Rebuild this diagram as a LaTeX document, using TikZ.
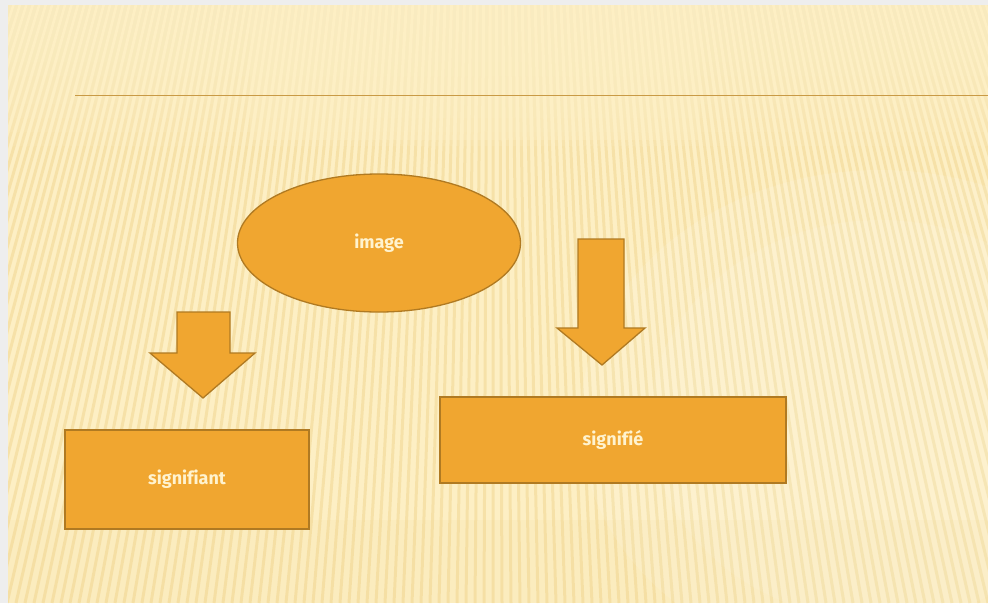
\documentclass[tikz,border=0pt]{standalone}
\usepackage{fontspec}
\usetikzlibrary{shapes.geometric,calc}
\newfontfamily\handfont[Ligatures=NoCommon]{Fira Sans}
\definecolor{pagegray}{HTML}{EEEEEE}
\definecolor{slidebg}{HTML}{FDEFC4}
\definecolor{stripe}{HTML}{E9C46E}
\definecolor{boxfill}{HTML}{F0A630}
\definecolor{boxline}{HTML}{B07A22}
\definecolor{boxtext}{HTML}{FFF3CF}
\definecolor{rulecol}{HTML}{C99A45}
\tikzset{
  shapebase/.style={fill=boxfill, draw=boxline, line width=1.3pt},
  labelfont/.style={font=\handfont\bfseries\fontsize{18}{20}\selectfont},
  boxnode/.style={shapebase, rectangle, inner sep=0pt, text=boxtext, labelfont},
  ovalnode/.style={shapebase, ellipse, inner sep=0pt, text=boxtext, labelfont},
  blockarrow/.style={shapebase, line join=miter}
}
\begin{document}
\begin{tikzpicture}[x=1pt,y=-1pt]
\useasboundingbox (0,0) rectangle (988,603);
% page and slide background
\fill[pagegray] (0,0) rectangle (988,603);
\fill[slidebg] (8,5) rectangle (988,603);
\begin{scope}
  \clip (8,5) rectangle (988,603);
  \coordinate (vp) at (494,-1500);
  \foreach \xx in {-200,-191,...,1200} {
    \draw[stripe, opacity=0.32, line width=3pt]
      ($(vp)!0.7133!(\xx,603)$) -- (\xx,603);
  }
  % fade the upper area
  \foreach \k in {0,...,9} {
    \fill[slidebg, opacity=0.18] (8,5) rectangle (988,{20+\k*14});
  }
  \fill[slidebg, opacity=0.35] (250,5) rectangle (700,{140});
  % light soft blob on the right
  \fill[white, opacity=0.10] (880,420) ellipse (300 and 250);
  \fill[white, opacity=0.08] (880,420) ellipse (230 and 200);
  % lower band slightly darker
  \fill[stripe, opacity=0.06] (8,520) rectangle (988,603);
\end{scope}
% title rule
\coordinate (ruleL) at (75,95);
\coordinate (ruleR) at (988,95);
\draw[rulecol, line width=1pt] (ruleL) -- (ruleR);

% nodes
\node[ovalnode, minimum width=283pt, minimum height=138pt] (img) at (379,243) {image};
\node[boxnode, minimum width=244pt, minimum height=99pt] (sigant) at (187,479.5) {signifiant};
\node[boxnode, minimum width=346pt, minimum height=86pt] (sigie) at (613,440) {signifié};

% block arrows
\draw[blockarrow] (177,312) -- (230,312) -- (230,353) -- (255,353) -- (203,398)
  -- (150,353) -- (177,353) -- cycle;
\draw[blockarrow] (578,239) -- (624,239) -- (624,328) -- (645,328) -- (602,365)
  -- (557,328) -- (578,328) -- cycle;
\end{tikzpicture}
\end{document}
